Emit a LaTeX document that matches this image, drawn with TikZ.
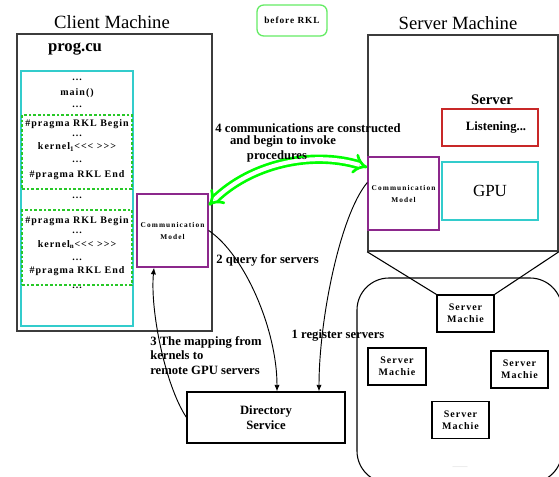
\documentclass[tikz,border=0pt]{standalone}
\usepackage{fontspec}
\setmainfont{Liberation Serif}
\newfontfamily\spacedserif[LetterSpace=10]{Liberation Serif}
\newfontfamily\widespaced[LetterSpace=15]{Liberation Serif}
\usepackage{tikz}
\usepackage{xcolor}
\usetikzlibrary{arrows.meta}

\definecolor{darkframe}{RGB}{60,60,60}
\definecolor{boxcyan}{RGB}{51,204,204}
\definecolor{dashgreen}{RGB}{40,200,40}
\definecolor{commpurple}{RGB}{140,40,140}
\definecolor{listenred}{RGB}{200,40,40}
\definecolor{beforegreen}{RGB}{100,235,100}

\newcommand{\px}{0.75pt}
\newcommand{\codetext}{\spacedserif\bfseries\fontsize{7.5}{9}\selectfont}
\newcommand{\commtext}{\widespaced\bfseries\fontsize{5.5}{9}\selectfont}

\begin{document}
\begin{tikzpicture}[x=0.75pt, y=-0.75pt, >={Latex[length=5pt,width=4pt]},
    box/.style={draw, line width=0.8pt, inner sep=0pt},
    frame/.style={box, draw=darkframe, line width=1.2pt},
    rklbox/.style={box, draw=dashgreen, line width=1pt, dash pattern=on 2pt off 1.5pt,
        minimum width=110*\px},
    codeline/.style={font=\codetext, inner sep=0pt, anchor=base},
    comm/.style={box, draw=commpurple, line width=1pt, font=\commtext, align=center,
        minimum width=71*\px, minimum height=73*\px},
    smbox/.style={box, font=\codetext, align=center, minimum width=57*\px, minimum height=37*\px},
    steptext/.style={font=\bfseries\fontsize{9.5}{10.9}\selectfont, inner sep=0pt},
    machine/.style={font=\fontsize{14}{16}\selectfont}]
    \useasboundingbox (0,0) rectangle (559,477);
    % Titles
    \node[machine] (clienttitle) at (112,22) {Client Machine};
    \node[machine] (servertitle) at (458,23) {Server Machine};
    \node[draw=beforegreen, line width=1pt, rounded corners=5pt, minimum width=70*\px,
        minimum height=31*\px, font=\codetext\fontsize{7}{8}\selectfont] (before) at (292,20.5) {before RKL};
    % Client machine
    \node[frame, minimum width=195*\px, minimum height=297*\px] (client) at (114.5,182.5) {};
    \node[font=\bfseries\fontsize{12.5}{14}\selectfont] (prog) at (75,49) {prog.cu};
    \node[box, draw=boxcyan, minimum width=112*\px, minimum height=255*\px] (code) at (77,198.5) {};
    \node[rklbox, minimum height=74*\px] (rkl1) at (77,152) {};
    \node[rklbox, minimum height=75*\px] (rkl2) at (77,247.5) {};
    \node[codeline] (l1) at (77,81) {...};
    \node[codeline] (l2) at (77,96) {main()};
    \node[codeline] (l3) at (77,108) {...};
    \node[codeline] (l4) at (77,127) {\#pragma RKL Begin};
    \node[codeline] (l5) at (77,137) {...};
    \node[codeline] (l6) at (77,150) {kernel\textsubscript{1}<<< >>>};
    \node[codeline] (l7) at (77,163) {...};
    \node[codeline] (l8) at (77,177) {\#pragma RKL End};
    \node[codeline] (l9) at (77,198) {...};
    \node[codeline] (l10) at (77,223) {\#pragma RKL Begin};
    \node[codeline] (l11) at (77,233) {...};
    \node[codeline] (l12) at (77,247) {kernel\textsubscript{n}<<< >>>};
    \node[codeline] (l13) at (77,260) {...};
    \node[codeline] (l14) at (77,273) {\#pragma RKL End};
    \node[codeline] (l15) at (77,288) {...};
    \node[comm] (ccomm) at (172.5,230.5) {Communication\\Model};
    % Server machine
    \node[frame, minimum width=190*\px, minimum height=216*\px] (server) at (463,143) {};
    \node[font=\bfseries\fontsize{11}{13}\selectfont] (servername) at (492,100) {Server};
    \node[box, draw=listenred, minimum width=96*\px, minimum height=37*\px, steptext] (listen) at (490,127.5) {\hspace{9pt}Listening...};
    \node[comm] (scomm) at (403.5,193.5) {Communication\\Model};
    \node[box, draw=boxcyan, minimum width=96*\px, minimum height=58*\px,
        font=\fontsize{12.75}{14}\selectfont] (gpu) at (490,191) {GPU};
    % Server pool
    \node[box, rounded corners=24pt, minimum width=205*\px, minimum height=205*\px] (pool) at (459.5,380.5) {};
    \node[smbox] (sm1) at (465.5,313.5) {Server\\Machie};
    \node[smbox, minimum width=58*\px] (sm2) at (397,366.5) {Server\\Machie};
    \node[smbox] (sm3) at (519.5,369.5) {Server\\Machie};
    \node[smbox] (sm4) at (460.5,420) {Server\\Machie};
    \node[font=\fontsize{3}{3}\selectfont, text=gray] (poolnote) at (460,467) {...............};
    \draw[line width=0.8pt] (server.south west) -- (sm1.north west);
    \draw[line width=0.8pt] (server.south east) -- (sm1.north east);
    % Directory service
    \node[box, minimum width=158*\px, minimum height=51*\px, steptext, align=center] (dir) at (266,417.5) {Directory\\Service};
    % Connectors
    \draw[->, line width=0.7pt] (ccomm.east) .. controls (245,255) and (277,330) .. ([xshift=11*\px]dir.north);
    \draw[->, line width=0.7pt] ([yshift=11*\px]scomm.west) .. controls (340,215) and (319,320) .. ([xshift=53*\px]dir.north);
    \draw[->, line width=0.7pt] (dir.west) .. controls (165,385) and (150,310) .. ([xshift=-18.5*\px]ccomm.south);
    \draw[green, line width=2pt, double=white, double distance=3pt, {Implies}-{Implies}]
        ([yshift=-12*\px]ccomm.north east) .. controls (250,165) and (310,150) .. ([yshift=-11*\px]scomm.north west);
    % Labels
    \node[steptext] (step4a) at (308,128) {4 communications are constructed};
    \node[steptext] (step4b) at (283,142) {and begin to invoke};
    \node[steptext] (step4c) at (277,156) {procedures};
    \node[steptext] (step2) at (267.5,260) {2 query for servers};
    \node[steptext] (step1) at (338,335) {1 register servers};
    \node[steptext, align=left, anchor=west] (step3) at (150,355.5) {3 The mapping from\\kernels to\\remote GPU servers};
\end{tikzpicture}
\end{document}
